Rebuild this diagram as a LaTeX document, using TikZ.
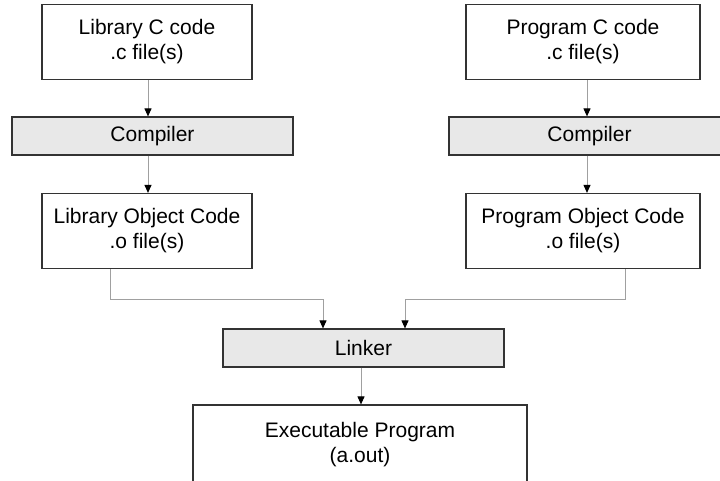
\documentclass[tikz,border=0pt]{standalone}
\usepackage{fontspec}
\setmainfont{Liberation Sans}
\usetikzlibrary{arrows.meta}
\definecolor{boxline}{HTML}{333333}
\definecolor{connline}{HTML}{A0A0A0}
\definecolor{toolfill}{HTML}{E8E8E8}
\tikzset{
  box/.style={draw=boxline, line width=1.2pt, fill=white, align=center,
    inner sep=0pt, font=\fontsize{21}{25}\selectfont},
  toolbox/.style={box, fill=toolfill},
  conn/.style={draw=connline, line width=1pt,
    -{Triangle[length=8pt,width=7pt,color=black]}}
}
\begin{document}
\begin{tikzpicture}[x=1pt,y=-1pt]
\useasboundingbox (0,0) rectangle (720,480);
\clip (0,0) rectangle (720,480);

% library column
\node[box, minimum width=210pt, minimum height=75pt] (libsrc) at (147,42) {Library C code\\.c file(s)};
\node[toolbox, minimum width=281pt, minimum height=38pt] (libcomp) at (152.5,136) {Compiler};
\node[box, minimum width=210pt, minimum height=75pt] (libobj) at (147,231) {Library Object Code\\.o file(s)};

% program column
\node[box, minimum width=234pt, minimum height=75pt] (prgsrc) at (583,42) {Program C code\\.c file(s)};
\node[toolbox, minimum width=281pt, minimum height=38pt] (prgcomp) at (589.5,136) {Compiler};
\node[box, minimum width=234pt, minimum height=75pt] (prgobj) at (583,231) {Program Object Code\\.o file(s)};

% linking stage
\node[toolbox, minimum width=281pt, minimum height=38pt] (linker) at (363.5,348) {Linker};
\node[box, minimum width=334pt, minimum height=80pt] (exe) at (360,445) {Executable Program\\(a.out)};

% connector columns
\coordinate (xl) at (148,0);
\coordinate (xr) at (587,0);
\coordinate (xlo) at (110,0);
\coordinate (xro) at (625,0);
\coordinate (xli) at (323,0);
\coordinate (xri) at (405,0);
\coordinate (xlk) at (361,0);
\coordinate (ybus) at (0,299);

\draw[conn] (libsrc.south -| xl) -- (libcomp.north -| xl);
\draw[conn] (libcomp.south -| xl) -- (libobj.north -| xl);
\draw[conn] (prgsrc.south -| xr) -- (prgcomp.north -| xr);
\draw[conn] (prgcomp.south -| xr) -- (prgobj.north -| xr);

\draw[conn] (libobj.south -| xlo) -- (xlo |- ybus) -- (xli |- ybus) -- (linker.north -| xli);
\draw[conn] (prgobj.south -| xro) -- (xro |- ybus) -- (xri |- ybus) -- (linker.north -| xri);
\draw[conn] (linker.south -| xlk) -- (exe.north -| xlk);
\end{tikzpicture}
\end{document}
